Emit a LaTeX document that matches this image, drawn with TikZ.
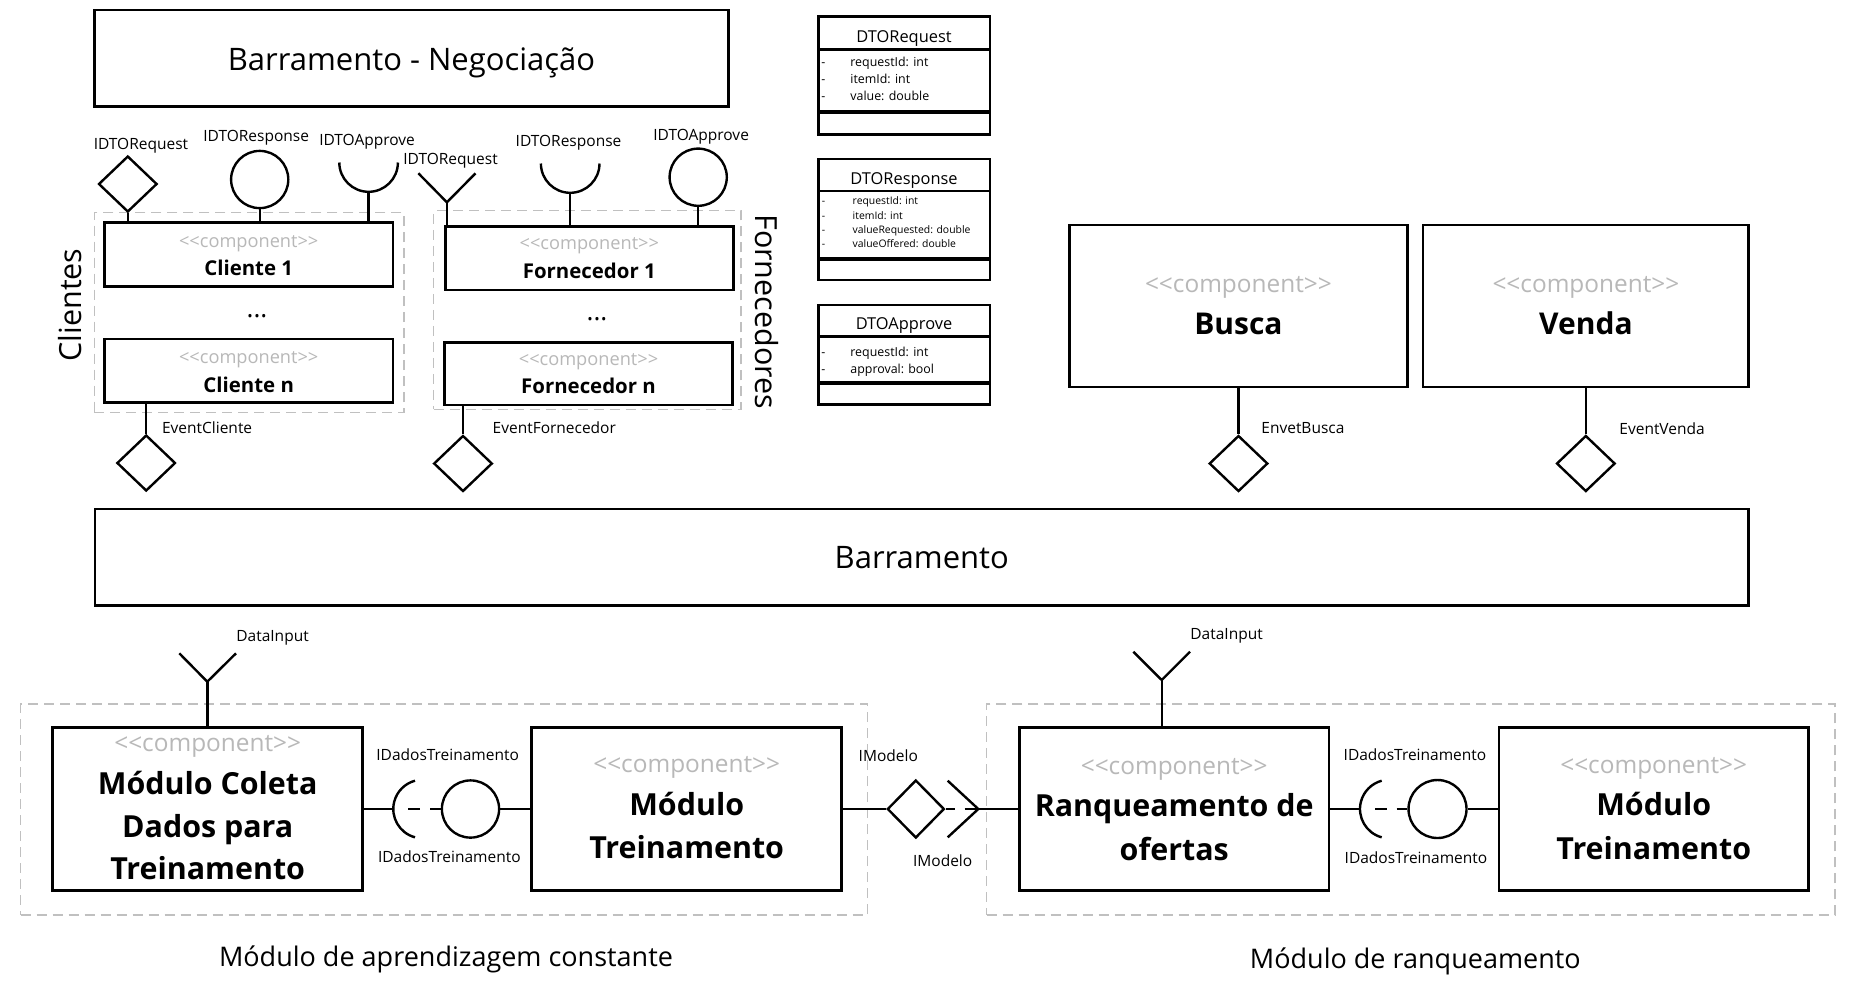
\documentclass[tikz,border=0pt]{standalone}
\usepackage{fontspec}
\setmainfont{Open Sans}
\newfontfamily\stfont{Open Sans}
\usetikzlibrary{shapes.geometric,fit}
\newcommand\fsz[1]{\fontsize{#1pt}{#1pt}\selectfont}
\definecolor{stgray}{HTML}{B8B8B8}
\definecolor{grpgray}{HTML}{C0C0C0}
\tikzset{
  box/.style={draw, line width=1.4pt, fill=white, inner sep=0pt},
  grp/.style={draw=grpgray, line width=0.75pt, dash pattern=on 5pt off 3pt, inner sep=0pt},
  conn/.style={line width=1.2pt},
  dia/.style={diamond, draw, line width=1.2pt, fill=white, inner sep=0pt, minimum width=29.3pt, minimum height=28pt},
  ball/.style={circle, draw, line width=1.2pt, fill=white, inner sep=0pt, minimum size=28.6pt},
  lbl/.style={inner sep=0pt, anchor=base west, font=\fsz{7.75}},
  txt/.style={inner sep=0pt, anchor=base},
  sts/.style={txt, text=stgray, font=\stfont\fsz{9.1}},
  stb/.style={txt, text=stgray, font=\stfont\fsz{12.2}},
  nms/.style={txt, font=\fsz{10.2}\bfseries},
  nmb/.style={txt, font=\fsz{15.2}\bfseries},
  ttl/.style={txt, font=\fsz{8.2}},
  attr/.style={inner sep=0pt, anchor=base west, font=\fsz{6.2}},
  attrs/.style={inner sep=0pt, anchor=base west, font=\fsz{5.2}},
}
\begin{document}
\begin{tikzpicture}[x=0.5pt,y=-0.5pt]
\useasboundingbox (0,0) rectangle (1855,982);

% ---------- groups ----------
\node[grp, fit={(94.4,212.7) (404.1,412.3)}] (gCli) {};
\node[grp, fit={(433.7,210.7) (740.8,409.3)}] (gFor) {};
\node[grp, fit={(20.7,704) (867.7,915)}] (gAprend) {};
\node[grp, fit={(986.7,704) (1835,915)}] (gRanq) {};

% ---------- top bus ----------
\node[box, fit={(94.4,10) (728.6,106.7)}] (neg) {};
\node[txt, font=\fsz{15.5}] at (411.5,70.5) {Barramento - Negociação};

% ---------- DTO classes ----------
\node[box, fit={(818.3,16.7) (990,134.3)}] (dtoReq) {};
\draw[line width=1.3pt] (818.3,49.3) -- (990,49.3);
\draw[line width=2.2pt] (818.3,111.7) -- (990,111.7);
\node[ttl] at (904,42.6) {DTORequest};
\foreach \yy/\tt in {66/requestId: int, 83.7/itemId: int, 100.7/value: double}{
  \node[attr] at (821,\yy) {-};
  \node[attr] at (850,\yy) {\tt};
}

\node[box, fit={(818.3,159) (990,280)}] (dtoRes) {};
\draw[line width=1.3pt] (818.3,191) -- (990,191);
\draw[line width=2.2pt] (818.3,258.7) -- (990,258.7);
\node[ttl] at (904,184.2) {DTOResponse};
\foreach \yy/\tt in {204.4/requestId: int, 219.1/itemId: int, 233.4/valueRequested: double, 247.4/valueOffered: double}{
  \node[attrs] at (821.5,\yy) {-};
  \node[attrs] at (852.3,\yy) {\tt};
}

\node[box, fit={(818.3,305) (990,404.3)}] (dtoApp) {};
\draw[line width=1.3pt] (818.3,336.7) -- (990,336.7);
\draw[line width=2.2pt] (818.3,382.8) -- (990,382.8);
\node[ttl] at (904,329.9) {DTOApprove};
\foreach \yy/\tt in {356/requestId: int, 373.7/approval: bool}{
  \node[attr] at (821,\yy) {-};
  \node[attr] at (850,\yy) {\tt};
}

% ---------- Clientes ----------
\node[box, fit={(104.6,222.7) (392.9,286.7)}] (cl1) {};
\node[sts] at (248.7,247.5) {<<component>>};
\node[nms] at (248.7,275.4) {Cliente 1};
\node[txt, font=\fsz{13}] (dotsC) at (257,317) {...};
\node[box, fit={(104.6,339) (392.9,402.7)}] (cln) {};
\node[sts] at (248.7,363.5) {<<component>>};
\node[nms] at (248.7,392) {Cliente n};
\node[rotate=90, inner sep=0pt, font=\fsz{15.25}] (lblCli) at (69.8,305) {Clientes};

% ---------- Fornecedores ----------
\node[box, fit={(445.4,226.7) (733.2,290)}] (fo1) {};
\node[sts] at (589.3,249.5) {<<component>>};
\node[nms] at (589.3,278) {Fornecedor 1};
\node[txt, font=\fsz{13}] (dotsF) at (597,320) {...};
\node[box, fit={(444.5,342.3) (732.5,405)}] (fon) {};
\node[sts] at (588.5,365.2) {<<component>>};
\node[nms] at (588.5,393.8) {Fornecedor n};
\node[rotate=-90, inner sep=0pt, font=\fsz{15.25}] (lblFor) at (766.6,311.7) {Fornecedores};

% ---------- top interfaces (Clientes) ----------
\node[lbl] at (93.4,149.5) {IDTORequest};
\node[dia] (iReqC) at (127.8,184) {};
\draw[conn] (iReqC.south) -- (iReqC.south |- cl1.north);
\node[lbl] at (203,141.5) {IDTOResponse};
\node[ball] (iResC) at (259.7,179.5) {};
\draw[conn] (iResC.south) -- (iResC.south |- cl1.north);
\node[lbl] at (318.9,145.5) {IDTOApprove};
\draw[conn] (339.3,162.5) arc[start angle=180, end angle=0, radius=29.3];
\coordinate (sAppC) at (368.6,191.8);
\draw[conn] (sAppC) -- (sAppC |- cl1.north);

% ---------- top interfaces (Fornecedores) ----------
\node[lbl] at (403,164.5) {IDTORequest};
\coordinate (vReqF) at (446.9,202.3);
\draw[conn] (418.4,173.3) -- (vReqF) -- (475.5,173.3);
\draw[conn] (vReqF) -- (vReqF |- fo1.north);
\node[lbl] at (515.3,146.5) {IDTOResponse};
\draw[conn] (540.9,163.5) arc[start angle=180, end angle=0, radius=29.3];
\coordinate (sResF) at (570.2,192.8);
\draw[conn] (sResF) -- (sResF |- fo1.north);
\node[lbl] at (653,140.5) {IDTOApprove};
\node[ball] (iAppF) at (698.2,177.2) {};
\draw[conn] (iAppF.south) -- (iAppF.south |- fo1.north);

% ---------- Busca / Venda ----------
\node[box, fit={(1069.2,225) (1407.5,387)}] (busca) {};
\node[stb] at (1238.4,292.5) {<<component>>};
\node[txt, font=\fsz{15}\bfseries] at (1238.4,334) {Busca};
\node[box, fit={(1423,225) (1748.7,387)}] (venda) {};
\node[stb] at (1585.9,292.5) {<<component>>};
\node[txt, font=\fsz{15}\bfseries] at (1585.9,334) {Venda};

% ---------- event interfaces ----------
\node[dia] (evC) at (146.2,463) {};
\draw[conn] (evC.north |- cln.south) -- (evC.north);
\node[lbl] at (161.7,433.2) {EventCliente};
\node[dia] (evF) at (463,463.5) {};
\draw[conn] (evF.north |- fon.south) -- (evF.north);
\node[lbl] at (492.3,433.2) {EventFornecedor};
\node[dia] (evB) at (1238.5,463.5) {};
\draw[conn] (evB.north |- busca.south) -- (evB.north);
\node[lbl] at (1261,433.2) {EnvetBusca};
\node[dia] (evV) at (1585.8,463.5) {};
\draw[conn] (evV.north |- venda.south) -- (evV.north);
\node[lbl] at (1619,434.5) {EventVenda};

% ---------- main bus ----------
\node[box, fit={(95,509) (1748.7,605.7)}] (bus) {};
\node[txt, font=\fsz{15.5}] at (921.8,568) {Barramento};

% ---------- bottom components ----------
\node[box, fit={(52.7,727.3) (362.7,890.7)}] (coleta) {};
\node[stb] at (207.7,751.5) {<<component>>};
\node[nmb] at (207.7,794) {Módulo Coleta};
\node[nmb] at (207.7,837.4) {Dados para};
\node[nmb] at (207.7,879) {Treinamento};

\node[box, fit={(531.7,727.3) (841.7,890.7)}] (treinoL) {};
\node[stb] at (686.7,772.2) {<<component>>};
\node[nmb] at (686.7,815) {Módulo};
\node[nmb] at (686.7,858.4) {Treinamento};

\node[box, fit={(1019.3,727.3) (1329,890.7)}] (ranq) {};
\node[stb] at (1174.2,774.2) {<<component>>};
\node[nmb] at (1174.2,816.7) {Ranqueamento de};
\node[nmb] at (1174.2,860) {ofertas};

\node[box, fit={(1499,727.3) (1808.3,890.7)}] (treinoR) {};
\node[stb] at (1653.7,773.2) {<<component>>};
\node[nmb] at (1653.7,815.7) {Módulo};
\node[nmb] at (1653.7,859) {Treinamento};

% ---------- DataInput ----------
\node[lbl] at (236,641.2) {DataInput};
\coordinate (vDL) at (207.3,681.7);
\draw[conn] (179.3,653.3) -- (vDL) -- (236,653.3);
\draw[conn] (vDL) -- (vDL |- coleta.north);
\node[lbl] at (1190,639.5) {DataInput};
\coordinate (vDR) at (1161.7,680);
\draw[conn] (1133.3,651.7) -- (vDR) -- (1190,651.7);
\draw[conn] (vDR) -- (vDR |- ranq.north);

% ---------- IDadosTreinamento (left) ----------
\node[lbl] at (376,760.5) {IDadosTreinamento};
\node[lbl] at (377.7,862.8) {IDadosTreinamento};
\coordinate (sDL) at (393.3,809);
\draw[conn] (415.0,837.3) arc[start angle=105, end angle=255, radius=29.3];
\draw[conn] (coleta.east) -- (sDL);
\node[ball] (bDL) at (470.5,809) {};
\draw[conn, dash pattern=on 5.85pt off 5pt] (408.3,809) -- (bDL.west);
\draw[conn] (bDL.east) -- (treinoL.west);

% ---------- IModelo ----------
\node[lbl] at (858.3,761.2) {IModelo};
\node[lbl] at (912.7,866.2) {IModelo};
\node[dia, minimum width=28.5pt, minimum height=29pt] (dIM) at (915.8,809) {};
\draw[conn] (treinoL.east) -- (dIM.west);
\coordinate (vIM) at (978.3,809);
\draw[conn, dash pattern=on 4.5pt off 5pt on 7.5pt off 5pt] (dIM.east) -- (vIM);
\draw[conn] (947.7,780.7) -- (vIM) -- (947.7,837.3);
\draw[conn] (vIM) -- (ranq.west);

% ---------- IDadosTreinamento (right) ----------
\node[lbl] at (1343.3,760.5) {IDadosTreinamento};
\node[lbl] at (1344.3,863.2) {IDadosTreinamento};
\coordinate (sDR) at (1360,809);
\draw[conn] (1381.7,837.3) arc[start angle=105, end angle=255, radius=29.3];
\draw[conn] (ranq.east) -- (sDR);
\node[ball, minimum size=29pt] (bDR) at (1437.5,809) {};
\draw[conn, dash pattern=on 5.85pt off 5pt] (1375,809) -- (bDR.west);
\draw[conn] (bDR.east) -- (treinoR.west);

% ---------- captions ----------
\node[txt, font=\fsz{13.5}] at (446,966) {Módulo de aprendizagem constante};
\node[txt, font=\fsz{13.5}] at (1415.3,968) {Módulo de ranqueamento};
\end{tikzpicture}
\end{document}
